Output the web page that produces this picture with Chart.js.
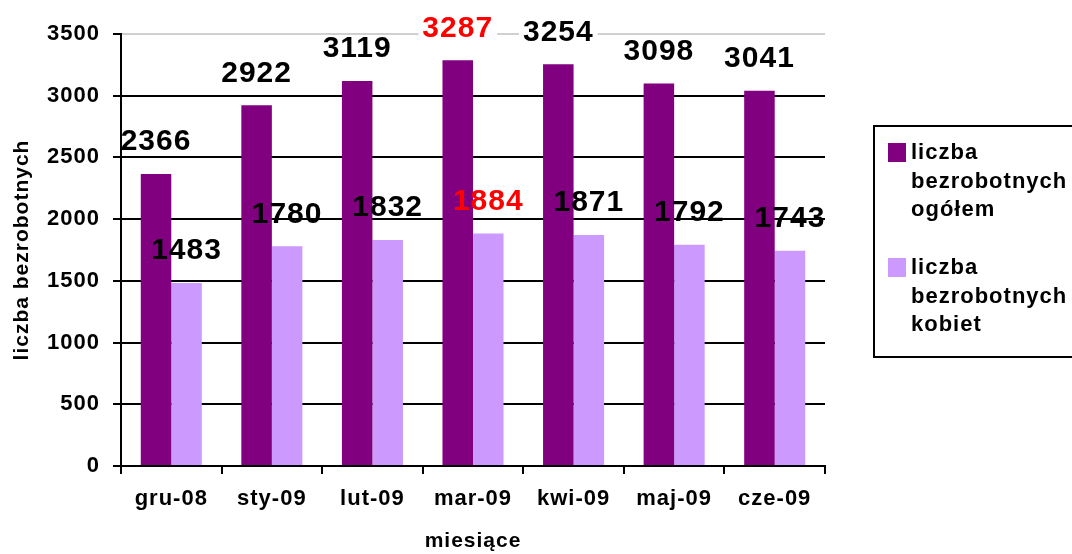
<!DOCTYPE html>
<html>
<head>
<meta charset="utf-8">
<script src="https://cdn.jsdelivr.net/npm/chart.js@4.4.1/dist/chart.umd.min.js"></script>
<style>
    html, body { margin: 0; padding: 0; background: #fff; }
    #chart { display: block; }
</style>
</head>
<body>
<canvas id="chart" width="1072" height="554"></canvas>
<script>
// Data ---------------------------------------------------------------
const months = ['gru-08', 'sty-09', 'lut-09', 'mar-09', 'kwi-09', 'maj-09', 'cze-09'];
const totalValues = [2366, 2922, 3119, 3287, 3254, 3098, 3041];
const womenValues = [1483, 1780, 1832, 1884, 1871, 1792, 1743];
const seriesNames = [
    ['liczba', 'bezrobotnych', 'ogółem'],
    ['liczba', 'bezrobotnych', 'kobiet']
];
const highlightMonth = 'mar-09';

const FONT = '"Liberation Sans", Arial, sans-serif';
const DARK = '#800080';
const LIGHT = '#cc99ff';

Chart.defaults.font.family = FONT;
Chart.defaults.color = '#000';

// Slightly wide lettering like the original ---------------------------
const spacingPlugin = {
    id: 'spacing',
    beforeLayout(chart) { chart.ctx.letterSpacing = '1px'; },
    beforeDraw(chart) { chart.ctx.letterSpacing = '1px'; }
};

// Value labels above bars ---------------------------------------------
const valueLabels = {
    id: 'valueLabels',
    afterDatasetsDraw(chart) {
        const ctx = chart.ctx;
        const area = chart.chartArea;
        ctx.save();
        ctx.letterSpacing = '1px';
        ctx.font = 'bold 30px ' + FONT;
        ctx.textAlign = 'center';
        ctx.textBaseline = 'middle';
        chart.data.datasets.forEach((ds, i) => {
            chart.getDatasetMeta(i).data.forEach((bar, j) => {
                const text = String(ds.data[j]);
                const y = bar.y - 32;
                if (y - 12 < area.top) {
                    const w = ctx.measureText(text).width;
                    ctx.fillStyle = '#fff';
                    ctx.fillRect(bar.x - w / 2 - 4, y - 14, w + 8, 26);
                }
                ctx.fillStyle = months[j] === highlightMonth ? '#ff0000' : '#000';
                ctx.fillText(text, bar.x, y);
            });
        });
        ctx.restore();
    }
};

// Legend box on the right ---------------------------------------------
const boxLegend = {
    id: 'boxLegend',
    afterDraw(chart) {
        const ctx = chart.ctx;
        ctx.save();
        ctx.lineWidth = 2;
        ctx.strokeStyle = '#000';
        ctx.strokeRect(874, 126, 200, 231);
        ctx.letterSpacing = '1px';
        ctx.font = 'bold 22px ' + FONT;
        ctx.textBaseline = 'middle';
        ctx.textAlign = 'left';
        const colors = [DARK, LIGHT];
        const tops = [153, 268];
        seriesNames.forEach((lines, i) => {
            ctx.fillStyle = colors[i];
            ctx.fillRect(888, tops[i] - 10, 18, 19);
            ctx.fillStyle = '#000';
            lines.forEach((line, k) => {
                ctx.fillText(line, 911, tops[i] + k * 28.5);
            });
        });
        ctx.restore();
    }
};

new Chart(document.getElementById('chart'), {
    type: 'bar',
    data: {
        labels: months,
        datasets: [
            { label: seriesNames[0].join(' '), data: totalValues, backgroundColor: DARK, borderWidth: 0 },
            { label: seriesNames[1].join(' '), data: womenValues, backgroundColor: LIGHT, borderWidth: 0 }
        ]
    },
    options: {
        responsive: false,
        animation: false,
        devicePixelRatio: 1,
        categoryPercentage: 0.607,
        barPercentage: 1,
        layout: { padding: { top: 34, right: 247, left: 0, bottom: 0 } },
        plugins: {
            legend: { display: false },
            tooltip: { enabled: false }
        },
        scales: {
            x: {
                offset: true,
                grid: { offset: true, drawOnChartArea: false, color: '#000', lineWidth: 2, tickLength: 8 },
                border: { color: '#000', width: 2 },
                ticks: { color: '#000', padding: 12, maxRotation: 0, font: { size: 22, weight: 'bold' } },
                title: {
                    display: true, text: 'miesiące', color: '#000',
                    padding: 0, font: { size: 21, weight: 'bold' }
                },
                afterFit(scale) { scale.height = 88; }
            },
            y: {
                min: 0,
                max: 3500,
                ticks: {
                    stepSize: 500, color: '#000', padding: 13,
                    font: { size: 22, weight: 'bold' },
                    callback: v => String(v)
                },
                grid: {
                    color: c => (c.tick && c.tick.value === 3500 ? '#d0d0d0' : '#000'),
                    tickColor: '#000',
                    lineWidth: 2,
                    tickLength: 8
                },
                border: { color: '#000', width: 2 },
                title: {
                    display: true, text: 'liczba bezrobotnych', color: '#000',
                    padding: { top: 10, bottom: 0 }, font: { size: 21, weight: 'bold' }
                },
                afterFit(scale) { scale.width = 121; }
            }
        }
    },
    plugins: [spacingPlugin, valueLabels, boxLegend]
});
</script>
</body>
</html>
